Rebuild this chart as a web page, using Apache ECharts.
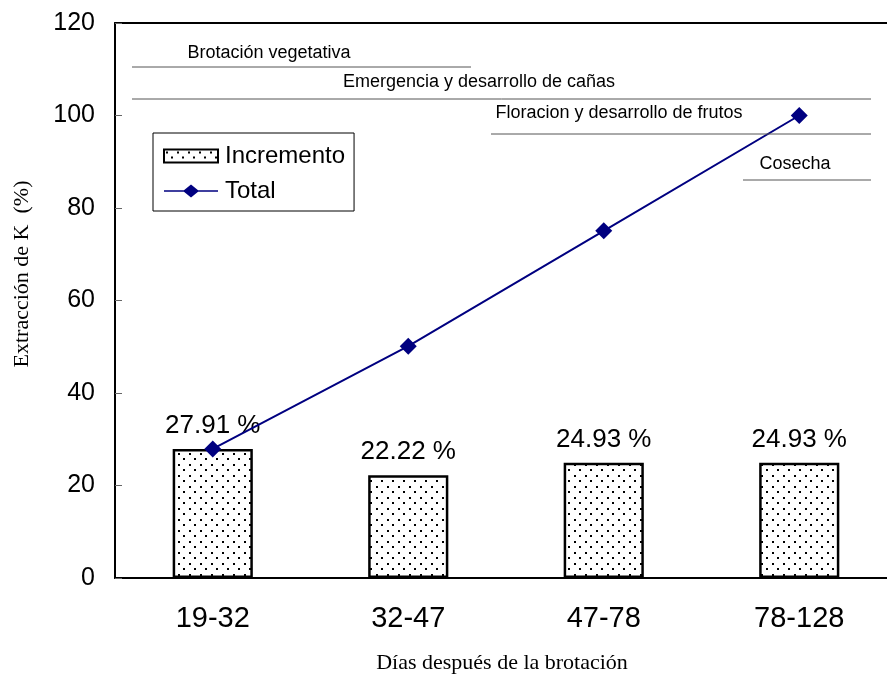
<!DOCTYPE html>
<html>
<head>
<meta charset="utf-8">
<script src="https://cdn.jsdelivr.net/npm/echarts@6/dist/echarts.min.js"></script>
<style>
html,body{margin:0;padding:0;background:#fff;overflow:hidden;}
#chart{width:887px;height:680px;}
</style>
</head>
<body>
<div id="chart"></div>
<script>
const categories = ['19-32', '32-47', '47-78', '78-128'];
const incremento = [27.91, 22.22, 24.93, 24.93];
const total = [27.91, 50.13, 75.06, 100];
const barLabels = ['27.91 %', '22.22 %', '24.93 %', '24.93 %'];
const yTicks = [0, 20, 40, 60, 80, 100, 120];
const phases = ['Brotación vegetativa', 'Emergencia y desarrollo de cañas', 'Floracion y desarrollo de frutos', 'Cosecha'];

const pc = document.createElement('canvas');
pc.width = 11; pc.height = 11;
const pctx = pc.getContext('2d');
pctx.fillStyle = '#fff'; pctx.fillRect(0, 0, 11, 11);
pctx.fillStyle = '#000';
pctx.fillRect(2, 2, 2, 2);
pctx.fillRect(7, 7, 2, 2);

const chart = echarts.init(document.getElementById('chart'));
const sans = 'Liberation Sans, Arial, sans-serif';
const serif = 'Liberation Serif, Times New Roman, serif';

function phaseLine(x1, x2, y) {
  return {type: 'line', shape: {x1: x1, y1: y, x2: x2, y2: y}, style: {stroke: '#555', lineWidth: 1}, z: 5};
}
function phaseText(txt, x, y) {
  return {type: 'text', x: x, y: y, style: {text: txt, font: '18px ' + sans, fill: '#000', textAlign: 'center', textVerticalAlign: 'middle'}, z: 5};
}

const totalIcon = 'path://M0,5.8 L54,5.8 L54,7.2 L0,7.2 Z M19,6.5 L27,0 L35,6.5 L27,13 Z';

chart.setOption({
  animation: false,
  backgroundColor: '#fff',
  grid: {left: 115, top: 23, width: 782, height: 555, containLabel: false, outerBoundsMode: 'none'},
  legend: {
    orient: 'vertical', left: 153, top: 133,
    padding: [11, 9, 8, 10],
    borderColor: '#000', borderWidth: 1,
    itemGap: 11, itemWidth: 54, itemHeight: 13,
    textStyle: {fontFamily: sans, fontSize: 24, color: '#000', padding: [0, 0, 0, 2]},
    data: [{name: 'Incremento', icon: 'rect'}, {name: 'Total', icon: totalIcon, itemStyle: {color: '#000080', borderWidth: 0}}]
  },
  xAxis: [{
    type: 'category', data: categories, position: 'bottom',
    axisLine: {lineStyle: {color: '#000', width: 2}},
    axisTick: {inside: true, length: 7, lineStyle: {color: '#666', width: 1}},
    axisLabel: {fontFamily: sans, fontSize: 29, color: '#000', margin: 26},
    name: 'Días después de la brotación', nameLocation: 'middle', nameGap: 74,
    nameTextStyle: {fontFamily: serif, fontSize: 22, color: '#000', padding: [0, 8, 0, 0]}
  }, {
    type: 'category', data: categories, position: 'top',
    axisLine: {show: true, lineStyle: {color: '#000', width: 2}},
    axisTick: {show: false}, axisLabel: {show: false}
  }],
  yAxis: {
    type: 'value', min: 0, max: 120, interval: 20,
    splitLine: {show: false},
    axisLine: {show: true, lineStyle: {color: '#000', width: 2}},
    axisTick: {show: true, inside: true, length: 7, lineStyle: {color: '#666', width: 1}},
    axisLabel: {fontFamily: sans, fontSize: 25, color: '#000', margin: 20,
      formatter: function (v) { return yTicks.indexOf(v) >= 0 ? String(v) : ''; }}
  },
  series: [{
    name: 'Incremento', type: 'bar', data: incremento, barWidth: '41%',
    itemStyle: {color: {image: pc, repeat: 'repeat'}, borderColor: '#000', borderWidth: 2.5},
    label: {show: true, position: 'top', distance: 10, fontFamily: sans, fontSize: 26, color: '#000',
      formatter: function (p) { return barLabels[p.dataIndex]; }},
    z: 2
  }, {
    name: 'Total', type: 'line', data: total,
    symbol: 'diamond', symbolSize: 17,
    lineStyle: {color: '#000080', width: 2},
    itemStyle: {color: '#000080'},
    z: 3
  }],
  graphic: [
    phaseLine(132, 471, 67), phaseText(phases[0], 269, 53),
    phaseLine(132, 871, 99), phaseText(phases[1], 479, 82),
    phaseLine(491, 871, 134), phaseText(phases[2], 619, 113),
    phaseLine(743, 871, 180), phaseText(phases[3], 795, 164),
    {type: 'text', x: 22, y: 274, rotation: Math.PI / 2,
      style: {text: 'Extracción de K  (%)', font: '22px ' + serif, fill: '#000', textAlign: 'center', textVerticalAlign: 'middle'}}
  ]
});
</script>
</body>
</html>
